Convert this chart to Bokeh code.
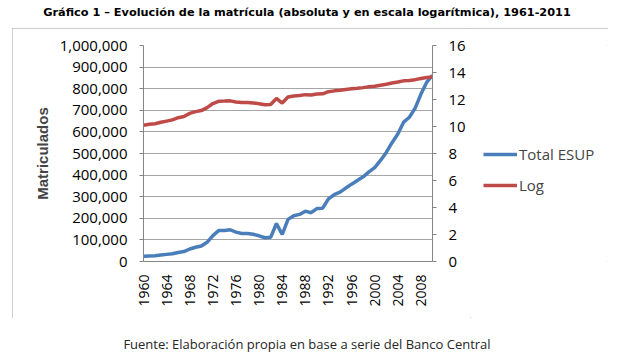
from bokeh.plotting import figure
from bokeh.models import (Range1d, LinearAxis, FixedTicker, NumeralTickFormatter,
                          Legend, LegendItem, Div, Spacer)
from bokeh.layouts import column, row
from bokeh.embed import file_html
from bokeh.resources import INLINE
import math

years = list(range(1960, 2011))
total_esup = [24000, 26000, 27000, 30000, 33000, 36000, 42000, 46000, 58000, 66000,
              72000, 89000, 120000, 143000, 144000, 147000, 136000, 130000, 130000, 126000,
              119000, 110000, 112000, 176000, 125000, 195000, 212000, 218000, 233000, 226000,
              245000, 247000, 290000, 310000, 321000, 340000, 358000, 375000, 392000, 415000,
              435000, 468000, 505000, 550000, 590000, 645000, 668000, 710000, 775000, 830000,
              862000]
log_vals = [10.09, 10.17, 10.20, 10.31, 10.40, 10.49, 10.65, 10.74, 10.97, 11.10,
            11.18, 11.40, 11.70, 11.87, 11.88, 11.90, 11.82, 11.78, 11.78, 11.74,
            11.69, 11.61, 11.63, 12.08, 11.74, 12.18, 12.26, 12.29, 12.36, 12.33,
            12.41, 12.42, 12.58, 12.64, 12.68, 12.74, 12.79, 12.83, 12.88, 12.94,
            12.98, 13.06, 13.13, 13.22, 13.29, 13.38, 13.41, 13.47, 13.56, 13.63,
            13.67]
x_ticks = list(range(1960, 2009, 4))
left_ticks = list(range(0, 1000001, 100000))
right_ticks = list(range(0, 17, 2))

title_text = "Gráfico 1 – Evolución de la matrícula (absoluta y en escala logarítmica), 1961-2011"
source_text = "Fuente: Elaboración propia en base a serie del Banco Central"
y_label = "Matriculados"
series_names = ["Total ESUP", "Log"]

BLUE = "#4A7EBB"
RED = "#BE4B48"
AXIS = "#868686"
GRID = "#A6A6A6"
FONT = "Open Sans"
TICK_SIZE = "15px"
LW = 3.5

p = figure(width=458, height=290, output_backend="svg", toolbar_location=None,
           x_range=Range1d(1960, 2010), y_range=Range1d(0, 1000000),
           min_border_left=131, min_border_right=38, min_border_top=17,
           min_border_bottom=57)
p.extra_y_ranges = {"log": Range1d(0, 16)}
p.outline_line_color = None
p.background_fill_color = "white"
p.border_fill_color = "white"

r1 = p.line(years, total_esup, line_color=BLUE, line_width=LW)
r2 = p.line(years, log_vals, line_color=RED, line_width=LW, y_range_name="log")

p.xgrid.visible = False
p.ygrid.ticker = FixedTicker(ticks=left_ticks)
p.ygrid.grid_line_color = GRID
p.ygrid.grid_line_width = 1

xa = p.xaxis[0]
xa.ticker = FixedTicker(ticks=x_ticks)
xa.major_label_orientation = math.pi / 2
xa.axis_line_color = AXIS
xa.major_tick_line_color = None
xa.minor_tick_line_color = None
xa.major_label_standoff = 7
xa.major_label_text_font = FONT
xa.major_label_text_font_size = "14px"
xa.major_label_text_color = "black"

ya = p.yaxis[0]
ya.ticker = FixedTicker(ticks=left_ticks)
ya.formatter = NumeralTickFormatter(format="0,0")
ya.axis_line_color = AXIS
ya.major_tick_line_color = AXIS
ya.major_tick_in = 0
ya.major_tick_out = 4
ya.minor_tick_line_color = None
ya.major_label_standoff = 12
ya.major_label_text_font = FONT
ya.major_label_text_font_size = TICK_SIZE
ya.major_label_text_color = "black"
ya.axis_label = y_label
ya.axis_label_text_font = "Liberation Sans"
ya.axis_label_text_font_style = "bold"
ya.axis_label_text_font_size = "15px"
ya.axis_label_standoff = 6

ra = LinearAxis(y_range_name="log", ticker=FixedTicker(ticks=right_ticks))
ra.axis_line_color = AXIS
ra.major_tick_line_color = AXIS
ra.major_tick_in = 0
ra.major_tick_out = 4
ra.minor_tick_line_color = None
ra.major_label_standoff = 12
ra.major_label_text_font = FONT
ra.major_label_text_font_size = TICK_SIZE
ra.major_label_text_color = "black"
p.add_layout(ra, "right")

# legend in its own small figure to the right of the chart
pl = figure(width=138, height=290, output_backend="svg", toolbar_location=None,
            x_axis_type=None, y_axis_type=None, min_border=0,
            x_range=Range1d(0, 1), y_range=Range1d(0, 1))
pl.outline_line_color = None
pl.grid.visible = False
l1 = pl.line([5, 6], [5, 5], line_color=BLUE, line_width=LW)
l2 = pl.line([5, 6], [5, 5], line_color=RED, line_width=LW)
legend = Legend(items=[LegendItem(label=series_names[0], renderers=[l1]),
                       LegendItem(label=series_names[1], renderers=[l2])],
                location=(13, 66), orientation="vertical",
                border_line_color=None, background_fill_alpha=0,
                padding=0, margin=0, spacing=11, glyph_width=34, glyph_height=20,
                label_height=20, label_standoff=2,
                label_text_font=FONT, label_text_font_size="15px")
pl.add_layout(legend, "center")

chart = row(p, pl)
chart.styles = {"outline": "1px solid #BFBFBF", "outline-offset": "-1px"}

title_div = Div(text=title_text, width=604, height=18,
                styles={"font-family": "DejaVu Sans", "font-weight": "bold",
                        "font-size": "11.3px", "text-align": "center",
                        "line-height": "15px", "width": "604px", "color": "black"})
foot_div = Div(text=source_text, width=604, height=34,
               styles={"font-family": FONT, "font-size": "13px", "text-align": "center",
                       "line-height": "14px", "padding-top": "14px", "width": "604px",
                       "color": "#262626"})

layout = column(title_div, row(Spacer(width=12, height=290), chart), foot_div)

open("out.html", "w").write(file_html(layout, INLINE))
